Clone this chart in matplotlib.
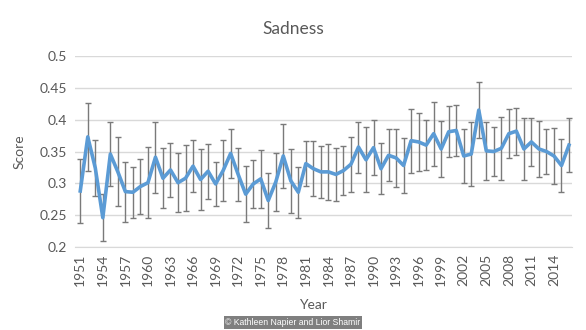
import matplotlib
matplotlib.use('Agg')
import matplotlib.pyplot as plt
import numpy as np

# Mean sadness score per year and its error bar half-width
years = list(range(1951, 2017))
score = [0.288, 0.373, 0.324, 0.246, 0.346, 0.318, 0.287, 0.286, 0.295, 0.301,
         0.341, 0.308, 0.321, 0.301, 0.308, 0.327, 0.306, 0.319, 0.299, 0.320,
         0.347, 0.314, 0.283, 0.299, 0.307, 0.273, 0.302, 0.343, 0.304, 0.286,
         0.331, 0.323, 0.318, 0.318, 0.314, 0.320, 0.330, 0.357, 0.337, 0.356,
         0.323, 0.344, 0.340, 0.328, 0.367, 0.365, 0.360, 0.378, 0.354, 0.381,
         0.383, 0.343, 0.346, 0.415, 0.351, 0.350, 0.355, 0.378, 0.382, 0.354,
         0.365, 0.354, 0.350, 0.343, 0.328, 0.360]
err = [0.050, 0.053, 0.044, 0.037, 0.050, 0.054, 0.047, 0.040, 0.043, 0.056,
       0.056, 0.047, 0.043, 0.046, 0.052, 0.041, 0.048, 0.043, 0.034, 0.048,
       0.039, 0.042, 0.044, 0.038, 0.045, 0.043, 0.046, 0.050, 0.050, 0.040,
       0.035, 0.043, 0.041, 0.044, 0.042, 0.039, 0.043, 0.040, 0.051, 0.043,
       0.040, 0.041, 0.045, 0.043, 0.050, 0.046, 0.039, 0.050, 0.044, 0.040,
       0.040, 0.043, 0.050, 0.044, 0.045, 0.038, 0.049, 0.038, 0.037, 0.048,
       0.037, 0.044, 0.036, 0.044, 0.041, 0.042]
yticks = [0.2, 0.25, 0.3, 0.35, 0.4, 0.45, 0.5]
xticks = years[::3]

plt.rcParams['font.family'] = ['Lato', 'DejaVu Sans']
grey = '#595959'

fig = plt.figure(figsize=(5.86, 3.3), dpi=100)
ax = fig.add_axes([75 / 586, 1 - 247 / 330, (572 - 75) / 586, (247 - 56) / 330])

ax.errorbar(years, score, yerr=err, fmt='none', ecolor='#7a7a7a',
            elinewidth=1.0, capsize=2.5, capthick=1.0, zorder=2)
ax.plot(years, score, color='#5B9BD5', linewidth=2.6, zorder=3,
        solid_joinstyle='round')

ax.set_ylim(0.2, 0.5)
ax.set_xlim(1950.3, 2016.4)
ax.set_yticks(yticks)
ax.set_yticklabels([f'{v:g}' for v in yticks])
ax.set_xticks(xticks)
ax.set_xticklabels([str(y) for y in xticks], rotation=90)
ax.grid(axis='y', color='#d9d9d9', linewidth=1.0)
ax.set_axisbelow(True)
for s in ['top', 'right', 'left']:
    ax.spines[s].set_visible(False)
ax.spines['bottom'].set_color('#d9d9d9')
ax.tick_params(axis='both', length=0, labelsize=10, colors=grey, pad=6)
ax.tick_params(axis='x', pad=5)

# titles sit centred on the whole figure, like the Excel original
fig.text(0.5, 1 - 29 / 330, 'Sadness', ha='center', va='center',
         fontsize=12.5, color=grey)
ax.set_ylabel('Score', fontsize=10, color=grey, labelpad=10)
fig.text(313 / 586, 1 - 305 / 330, 'Year', ha='center', va='center',
         fontsize=10, color=grey)

fig.text(0.5, 1 - 322.5 / 330, '\u00a9 Kathleen Napier and Lior Shamir',
         ha='center', va='center', fontsize=6.2, color='white',
         family=['Liberation Sans', 'DejaVu Sans'],
         bbox=dict(facecolor='#7f7f7f', edgecolor='none', pad=1.2))

fig.savefig('out.png', dpi=100)
